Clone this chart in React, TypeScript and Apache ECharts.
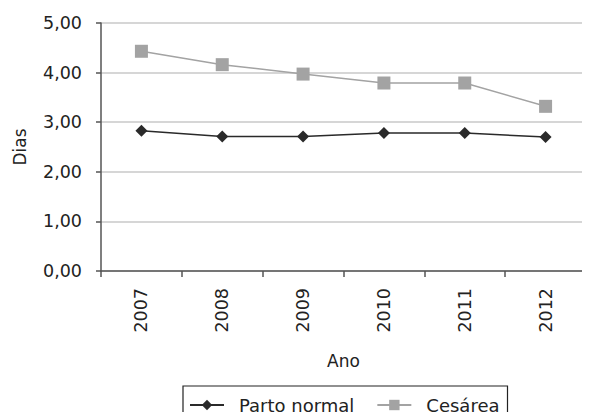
import React, { useEffect, useRef } from "react";
import * as echarts from "echarts";

const anos = ["2007", "2008", "2009", "2010", "2011", "2012"];
const partoNormal = [2.83, 2.71, 2.71, 2.78, 2.78, 2.7];
const cesarea = [4.43, 4.16, 3.97, 3.79, 3.79, 3.32];
const yTicks = { min: 0, max: 5, interval: 1 };

const FONT = "'DejaVu Sans', sans-serif";
const TEXT = "#222";

export default function App() {
  const ref = useRef<HTMLDivElement>(null);

  useEffect(() => {
    if (!ref.current) return;
    const chart = echarts.init(ref.current, null, { renderer: "svg" });
    chart.setOption({
      animation: false,
      textStyle: { fontFamily: FONT, color: TEXT },
      grid: { left: 101, right: 4, top: 23, bottom: 149 },
      xAxis: {
        type: "category",
        data: anos,
        boundaryGap: true,
        name: "Ano",
        nameLocation: "middle",
        nameGap: 81,
        nameTextStyle: { fontSize: 17, color: TEXT, fontFamily: FONT },
        axisLine: { lineStyle: { color: "#555", width: 1.5 } },
        axisTick: { show: true, length: 6, lineStyle: { color: "#555", width: 1.5 } },
        axisLabel: { rotate: 90, margin: 17, fontSize: 17.5, color: TEXT, fontFamily: FONT },
      },
      yAxis: {
        type: "value",
        min: yTicks.min,
        max: yTicks.max,
        interval: yTicks.interval,
        name: "Dias",
        nameLocation: "middle",
        nameGap: 73,
        nameTextStyle: { fontSize: 17, color: TEXT, fontFamily: FONT },
        axisLine: { show: true, lineStyle: { color: "#555", width: 1.5 } },
        axisTick: { show: true, length: 5, lineStyle: { color: "#555", width: 1.5 } },
        axisLabel: {
          margin: 19,
          fontSize: 17.5,
          color: TEXT,
          fontFamily: FONT,
          formatter: (v: number) => v.toFixed(2).replace(".", ","),
        },
        splitLine: { lineStyle: { color: "#c8c8c8", width: 1.5 } },
      },
      legend: {
        left: 183,
        top: 386,
        orient: "horizontal",
        borderColor: "#222",
        borderWidth: 1.2,
        padding: [10, 8, 10, 6],
        itemGap: 22,
        itemWidth: 34,
        itemHeight: 13,
        textStyle: {
          fontSize: 18,
          color: TEXT,
          fontFamily: FONT,
          padding: [0, 0, 0, 10],
        },
        data: ["Parto normal", "Cesárea"],
      },
      series: [
        {
          name: "Parto normal",
          type: "line",
          data: partoNormal,
          symbol: "diamond",
          symbolSize: 12,
          lineStyle: { color: "#2a2a2a", width: 1.5 },
          itemStyle: { color: "#2a2a2a" },
        },
        {
          name: "Cesárea",
          type: "line",
          data: cesarea,
          symbol: "rect",
          symbolSize: 13,
          lineStyle: { color: "#a3a3a3", width: 1.5 },
          itemStyle: { color: "#a3a3a3" },
        },
      ],
    });
    return () => chart.dispose();
  }, []);

  return <div ref={ref} style={{ width: 590, height: 420, margin: -8 }} />;
}
